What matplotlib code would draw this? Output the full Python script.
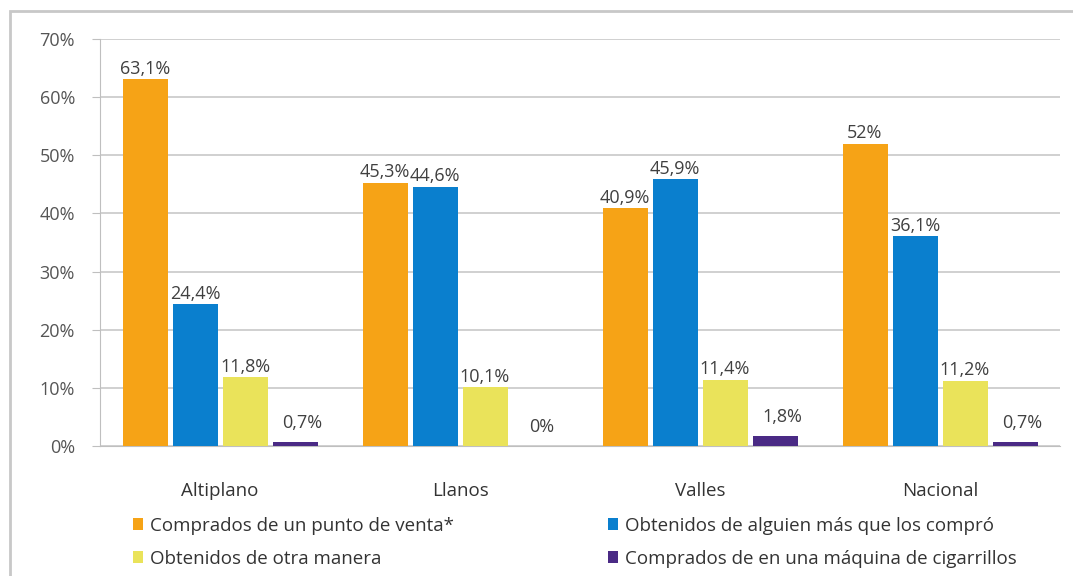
import matplotlib
matplotlib.use("Agg")
import matplotlib.pyplot as plt
from matplotlib.patches import Rectangle
import numpy as np

plt.rcParams['font.family'] = ['Open Sans', 'DejaVu Sans']

categories = ["Altiplano", "Llanos", "Valles", "Nacional"]
series_names = [
    "Comprados de un punto de venta*",
    "Obtenidos de alguien más que los compró",
    "Obtenidos de otra manera",
    "Comprados de en una máquina de cigarrillos",
]
punto_venta = [63.1, 45.3, 40.9, 52.0]
alguien = [24.4, 44.6, 45.9, 36.1]
otra = [11.8, 10.1, 11.4, 11.2]
maquina = [0.7, 0.0, 1.8, 0.7]
value_labels = [
    ["63,1%", "45,3%", "40,9%", "52%"],
    ["24,4%", "44,6%", "45,9%", "36,1%"],
    ["11,8%", "10,1%", "11,4%", "11,2%"],
    ["0,7%", "0%", "1,8%", "0,7%"],
]
colors = ["#F6A316", "#0A7FCE", "#EAE35A", "#4A2A85"]
yticks = [0, 10, 20, 30, 40, 50, 60, 70]
ytick_labels = ["0%", "10%", "20%", "30%", "40%", "50%", "60%", "70%"]

W, H = 1073, 576
fig = plt.figure(figsize=(W / 100, H / 100), dpi=100)
fig.patch.set_facecolor("white")

# outer frame
fig.add_artist(Rectangle((10 / W, -0.01), 1.2, (H - 11) / H + 0.01,
                         transform=fig.transFigure, fill=False,
                         edgecolor="#C8C8C8", linewidth=2))

ax = fig.add_axes([100 / W, 1 - 446 / H, 960 / W, (446 - 39) / H])
data = [punto_venta, alguien, otra, maquina]
x = np.arange(len(categories))
step = 50 / 240
width = 45 / 240
for i, (vals, col) in enumerate(zip(data, colors)):
    pos = x + (i - 1.5) * step
    bars = ax.bar(pos, vals, width=width, color=col, label=series_names[i], zorder=3)
    for b, v, lab in zip(bars, vals, value_labels[i]):
        if v > 5:
            off = (0, 1)
        else:
            off = (5, 7)
        ax.annotate(lab, (b.get_x() + b.get_width() / 2, v),
                    xytext=off, textcoords="offset points",
                    ha="center", va="bottom", fontsize=13, color="#404040")

ax.set_xlim(-0.5, len(categories) - 0.5)
ax.set_ylim(0, 70)
ax.set_yticks(yticks)
ax.set_yticklabels(ytick_labels)
ax.set_xticks(x)
ax.set_xticklabels(categories)
ax.tick_params(axis="y", length=6, color="#BFBFBF", labelsize=13, labelcolor="#555555", pad=12)
ax.tick_params(axis="x", length=0, labelsize=13.5, labelcolor="#333333", pad=26)
ax.grid(axis="y", color="#C8C8C8", linewidth=1.2, zorder=0)
for s in ["top", "right"]:
    ax.spines[s].set_visible(False)
ax.spines["left"].set_color("#BFBFBF")
ax.spines["bottom"].set_color("#BFBFBF")

handles, labels = ax.get_legend_handles_labels()
order = [0, 2, 1, 3]
fig.legend([handles[k] for k in order], [labels[k] for k in order],
           loc="upper left", bbox_to_anchor=(127 / W, 1 - 511 / H), ncol=2,
           frameon=False, fontsize=13.5, handlelength=0.55, handleheight=0.55,
           handletextpad=0.37, columnspacing=8.2, labelspacing=0.8,
           labelcolor="#333333", borderaxespad=0, borderpad=0.3)

fig.savefig("out.png", dpi=100)
